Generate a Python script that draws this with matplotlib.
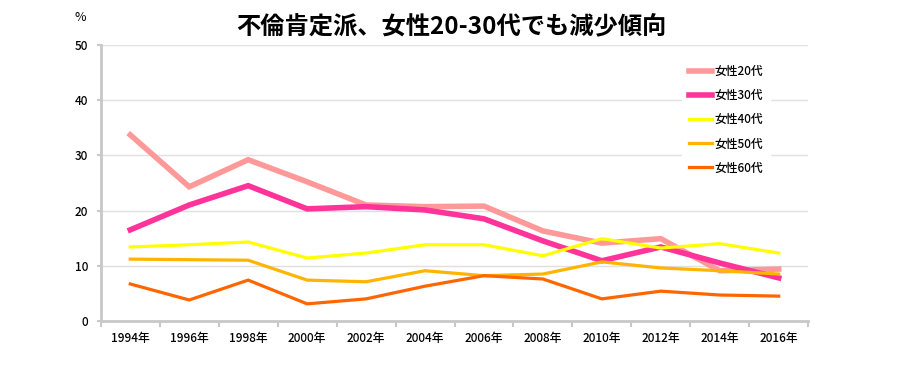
import matplotlib
matplotlib.use("Agg")
import matplotlib.pyplot as plt
import numpy as np

plt.rcParams['font.family'] = ['Noto Sans CJK JP', 'DejaVu Sans']

years = ["1994年", "1996年", "1998年", "2000年", "2002年", "2004年",
         "2006年", "2008年", "2010年", "2012年", "2014年", "2016年"]

f20 = [33.7, 24.3, 29.2, 25.2, 21.0, 20.7, 20.8, 16.3, 14.1, 14.9, 9.1, 9.4]
f30 = [16.5, 21.0, 24.5, 20.3, 20.7, 20.1, 18.5, 14.5, 10.9, 13.4, 10.5, 7.8]
f40 = [13.4, 13.8, 14.3, 11.4, 12.3, 13.8, 13.8, 11.8, 14.9, 13.2, 14.0, 12.3]
f50 = [11.2, 11.1, 11.0, 7.4, 7.1, 9.1, 8.2, 8.5, 10.7, 9.6, 9.1, 8.5]
f60 = [6.7, 3.8, 7.4, 3.1, 4.0, 6.3, 8.2, 7.6, 4.0, 5.4, 4.7, 4.5]

series = [
    ("女性20代", f20, "#FF9999", 4.0),
    ("女性30代", f30, "#FF3399", 4.0),
    ("女性40代", f40, "#FFFF00", 2.3),
    ("女性50代", f50, "#FFB400", 2.3),
    ("女性60代", f60, "#FF6600", 2.3),
]

fig = plt.figure(figsize=(9, 3.9), dpi=100)
ax = fig.add_axes([0.112, 0.177, 0.786, 0.708])

x = np.arange(len(years))
for name, vals, col, lw in series:
    ax.plot(x, vals, color=col, lw=lw, label=name, solid_joinstyle="miter")

ax.set_xlim(-0.5, len(years) - 0.5)
ax.set_ylim(0, 50)
ax.set_yticks([0, 10, 20, 30, 40, 50])
ax.set_xticks(x)
ax.set_xticklabels(years, fontweight="medium")
ax.set_xticks(np.arange(-0.5, len(years)), minor=True)
ax.tick_params(axis="x", which="major", length=0, labelsize=8.5, pad=8)
ax.tick_params(axis="x", which="minor", length=4, color="#c8c8c8", width=1.5)
ax.tick_params(axis="y", length=3, color="#c8c8c8", width=1.5, labelsize=8.5, pad=6)
for t in ax.get_yticklabels():
    t.set_fontweight("medium")

ax.grid(axis="y", color="#e0e0e0", lw=1)
ax.set_axisbelow(True)
for s in ["top", "right"]:
    ax.spines[s].set_visible(False)
for s in ["left", "bottom"]:
    ax.spines[s].set_color("#c8c8c8")
    ax.spines[s].set_linewidth(2)

leg = ax.legend(loc="upper right", bbox_to_anchor=(0.955, 0.975), frameon=True,
                prop={"size": 8.5, "weight": "medium"}, handlelength=2.0,
                handletextpad=0.2, labelspacing=0.95, borderpad=0.6)
leg.get_frame().set_facecolor("white")
leg.get_frame().set_edgecolor("white")
leg.get_frame().set_alpha(1)

fig.text(0.083, 0.955, "%", fontsize=9, ha="left", va="center")
fig.text(0.501, 0.93, "不倫肯定派、女性20-30代でも減少傾向", fontsize=17.5,
         fontweight="bold", ha="center", va="center")

fig.savefig("out.png", dpi=100)
